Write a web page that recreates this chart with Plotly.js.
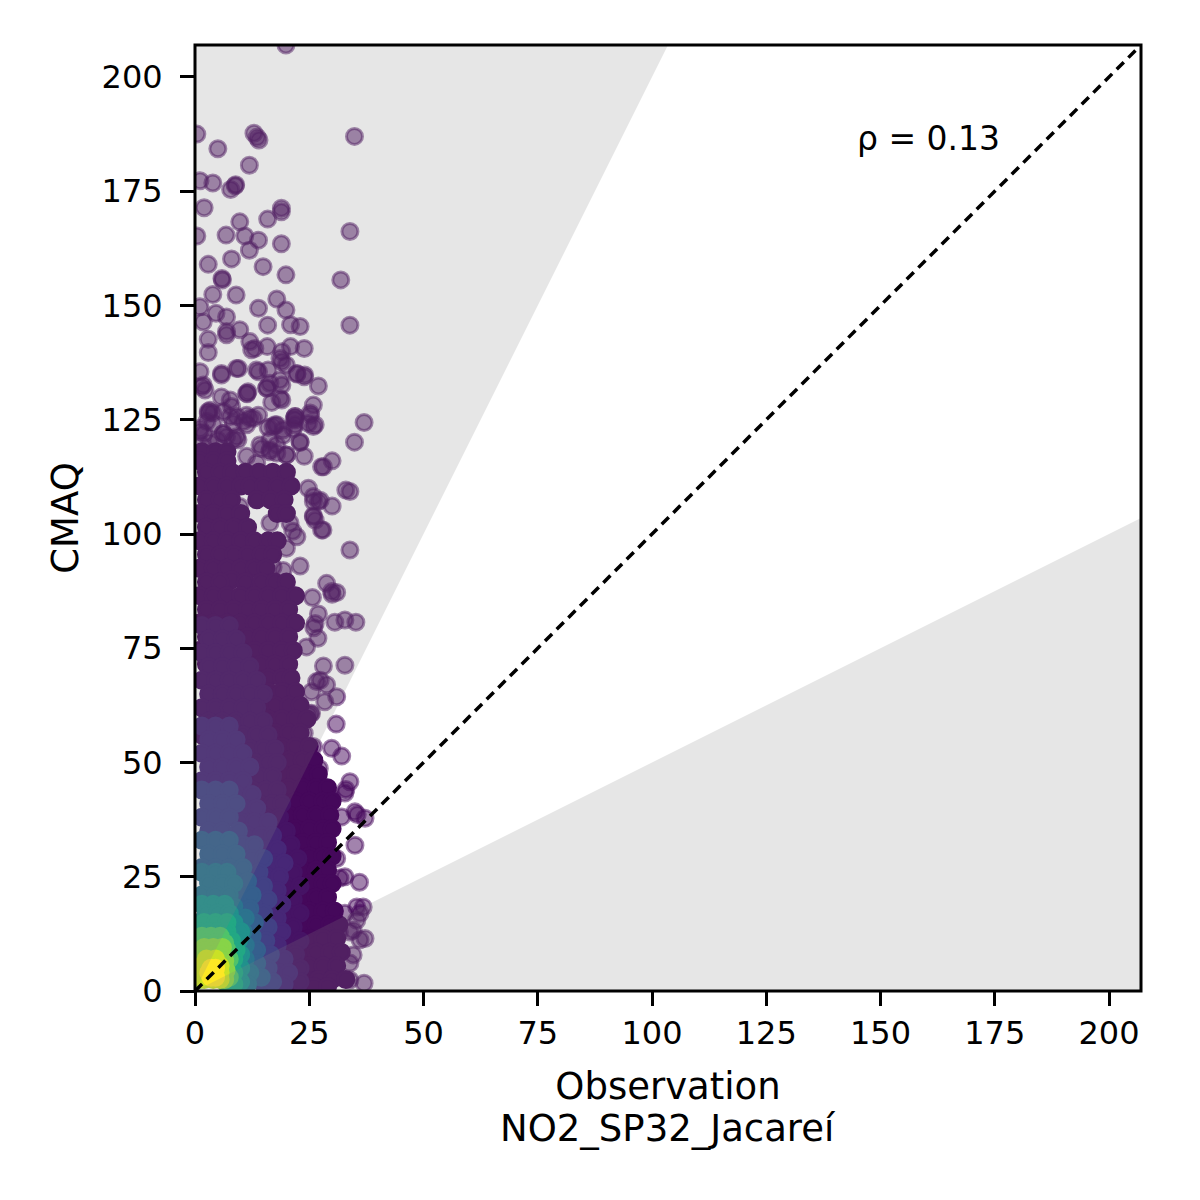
<!DOCTYPE html>
<html><head><meta charset="utf-8">
<script src="https://cdn.plot.ly/plotly-3.0.1.min.js"></script>
<style>html,body{margin:0;padding:0;background:#fff}</style></head>
<body><div id="chart" style="width:1200px;height:1200px"></div>
<script>
const tickValues=[0,25,50,75,100,125,150,175,200];
const axisMax=207;
const correlationLabel='ρ = 0.13';
const stationLabel='NO2_SP32_Jacareí';
const viridisStops=[[0,68,1,84],[0.1,72,36,117],[0.2,65,68,135],[0.3,53,95,141],[0.4,42,120,142],[0.5,33,145,140],[0.6,34,168,132],[0.7,68,191,112],[0.8,122,209,81],[0.9,189,223,38],[1,253,231,37]];
// isolated observations: [Observation, CMAQ]
const sparsePairs=[[19.9,207],[0.4,187.5],[12.9,187.7],[13.6,186.8],[14,186.2],[34.9,187],[5,184.3],[11.9,180.7],[1.1,177.3],[3.9,176.8],[7.8,175.4],[8.8,176.2],[8.9,176.4],[2,171.4],[18.9,171.3],[18.9,170.5],[15.9,168.9],[9.8,168.3],[6.8,165.4],[10.9,165.2],[0.4,165.2],[13.9,164.3],[33.9,166.2],[18.9,163.5],[11.9,162.1],[8,160.2],[2.9,159],[14.9,158.5],[19.9,156.7],[31.9,155.6],[5.9,155.9],[6,155.6],[3.9,152.4],[9,152.3],[17.9,151.4],[1.1,149.7],[13.9,149.4],[19.9,149],[4.6,148.3],[6.9,147.5],[1.8,146.4],[15.9,145.7],[20.9,145.8],[23,145.4],[33.9,145.7],[6.9,144.3],[6.9,143.6],[9.8,144.7],[2.9,142.6],[2.9,139.7],[1.1,135.5],[5.8,135.1],[9.5,136.2],[12,142.1],[13.1,140.6],[15.8,141],[19,139.9],[20.9,141],[23.9,140.6],[18.6,138.4],[13.5,135.9],[16,135.9],[19,132.6],[22.3,135.1],[23.9,134.4],[27,132.4],[25.9,128.2],[19,129.3],[15.7,131.9],[11.3,130.8],[7.7,129.3],[2.9,126.8],[1.5,132.2],[21.9,125.7],[21.9,125],[25.2,126.5],[17.9,123.9],[12,125.3],[1.1,123.1],[3.9,126.5],[7.7,125.7],[5.8,130],[1.1,122.4],[6.2,122],[9.1,121.3],[11.3,123.9],[17.1,123.5],[21.9,123.9],[25.9,123.5],[19.3,121.6],[16.4,118.4],[14.2,119.5],[20,117.3],[17.9,119.5],[34.9,120.1],[37,124.4],[30,116],[28.1,114.7],[27.7,114.7],[23.9,117],[23,120],[33,109.6],[33.9,109.3],[30,106.1],[24.8,110],[25.9,107.1],[27,107.1],[25.9,103.8],[28,100.9],[33.9,96.5],[23,93],[28.8,89.2],[29.9,87.4],[31,87.2],[25.7,86.1],[30,86.8],[30.6,80.7],[32.8,81.2],[35.2,80.7],[27,82.5],[26.3,80.4],[26,79.5],[32.8,71.3],[28.1,71.1],[26.9,77.2],[24.4,75.3],[27.4,68],[26.6,67.7],[28.8,67],[25.5,65.5],[31,64.4],[28.4,63.3],[22.3,62.6],[25.5,60.8],[24.8,60.4],[30.9,58.4],[23.9,56.4],[25.3,60.6],[32.1,51.4],[29.9,53.1],[27.2,48.7],[25.9,53.5],[33.9,45.8],[33,44.1],[32.8,43.3],[27.9,44.3],[29.9,42.2],[26.3,41.8],[25.2,40.7],[35,39.2],[37.2,37.8],[35.5,38.6],[32.1,38.1],[35,31.9],[31,29],[32.8,25],[31.7,24.7],[36,23.8],[32.8,17],[35.4,18.4],[36.8,18.4],[36.1,17],[37.2,11.5],[36.1,11.2],[34.6,7.9],[33.9,6.1],[33.9,2.4],[37,1.7],[35.4,15.5],[34.6,13.3],[33.9,12.9],[31.6,12.9],[31,14]];
const clusterPairs=[[5.8,134.8],[9.1,136.2],[13.9,135.5],[12.4,140.3],[19,137.7],[20,137],[24,134.8],[22.3,135],[18.6,133.7],[16.4,133],[15.7,132],[18.6,129.7],[16.8,128.8],[11.6,131.1],[11.4,130.7],[8,127.9],[3.3,127.1],[2.9,126.4],[1.8,132.6],[2.2,131.5],[6.2,126.8],[9.1,125.7],[11.3,126],[12.8,125.3],[13.9,126],[10.6,124.6],[8.4,124.2],[2.6,124.6],[21.9,125.7],[21.7,125.2],[25.3,126],[26.3,123.9],[24.8,124.2],[17.5,123.9],[16,123.3],[19.3,122.8],[21.5,123],[16.4,120.6],[23,120.2],[20,117.3],[14.6,118.7],[16.4,118],[17.9,117.7],[6.9,121.3],[8.4,120.6],[6.2,122],[9.4,120.6],[11.3,117],[13.5,115.5],[9.8,106],[16.4,102.4],[20.8,102.4],[21.4,100.6],[22.3,99.4],[20,96.9],[17.1,92.8],[19.3,92],[25.9,104],[26.3,103],[27.7,100.9],[25.9,108.2],[27.4,107.4],[2,122],[4,124],[5,120.5],[3.2,120],[1.5,119.5]];
// dense cloud, one band per density level: [CMAQ, Observation, Observation, ...]
const densityLevels=[0.02,0.05,0.11,0.19,0.3,0.38,0.5,0.6,0.72,0.82,0.92,1];
const bandA=[[118,1.5,4.5,7],[116,1,4,7],[113.5,2.5,5.5,8,11,14,17,20],[110.5,1,4,7,10,12,15,18,21],[107.5,2.5,5.5,8,13.5,16.5,19.5],[104.5,1,4,7,10,18,20],[101.5,2.5,5.5,8.5,11.5],[98.5,1,4,7,10,13,16,18],[95.5,2.5,5.5,8.5,11.5,14.5,17],[92.5,1,4,7,10,13,15.5],[90,8],[89.5,2.5,5.5,11,14.5,17.5,20],[86.5,1,4,7,10,13,16,19,22],[83.5,2.5,5.5,8.5,11.5,14.5,17.5,20.5],[80.5,1,4,7,10,13,16,19,22],[77.5,2.5,5.5,8.5,11.5,14.5,17.5,20.5],[74.5,1,4,7,10,13,16,19,21.5],[71.5,2.5,5.5,8.5,11.5,14.5,17.5,20.5],[68.5,10,13,16,19,21],[65.5,13,16,19,22],[62.5,14.5,17.5,20.5,23],[59.5,13,16,19,22,24.5],[56.5,14.5,17.5,20.5,23],[53.5,13,16,19,22,25],[50.5,14.5,17.5,20.5,23.5,26],[47.5,16,19,22,25,27],[44.5,17.5,20.5,23.5,26.5,29],[41.5,16,19,22,25,28,30],[38.5,17.5,20.5,23.5,26.5,29.5],[35.5,19,22,25,28,30],[32.5,20.5,23.5,26.5,29],[29.5,22,25,28,30],[26.5,20.5,23.5,26.5,29],[23.5,22,25,28,30],[20.5,23.5,26.5,29],[17.5,22,25,28,30.5],[14.5,23.5,26.5,29.5,31.5],[11.5,22,25,28,31],[8.5,23.5,26.5,29.5,32],[5.5,22.5,25,28,31],[2.5,24,27,30,33],[1,22,26,29]];
const bandB=[[80,1.5,4.5,7.5],[77,3,6,9],[74,1.5,4.5,7.5,10.5],[71,3,6,9,12],[68,1.5,4.5,7.5,10.5,13.5],[65,3,6,9,12,15],[62,1.5,4.5,7.5,10.5,13.5],[59,3,6,9,12,15],[56,1.5,4.5,7.5,10.5,13.5,16],[53,12,15,17.5],[50,13,16,18],[47,11,14,17],[44,12.5,15.5,18],[41,14,17,19],[38,12.5,15.5,18.5],[35,14,17,20],[32,15.5,18.5,21],[29,17,20,22.5],[26,15.5,18.5,21.5],[23,17,20,23],[20,18.5,21.5],[17,17,20,23],[14,18.5,21.5],[11,17.5,20.5,23],[8,19,22],[5,20,23],[2,20,23]];
const bandC=[[58,1.5,4.5,7.5],[55,3,6,9],[52,1.5,4.5,7.5,10.5],[49,3,6,9,12],[46,1.5,4.5,7.5,10.5],[43,3,6,9,12.5],[40,10.5,13.5],[37,10,13,16],[34,11.5,14.5,17],[31,13,16,18],[28,14.5,17.5,19.5],[25,16,18.5],[22,15,18],[19,16.5,19],[16,15,18],[13,16.5,19],[10,15.5,18],[7,17,19.5],[4,16,18.5,20.5],[1.5,17,19.5]];
const bandD=[[44,1.5,4.5,7.5],[41,3,6,9],[38,1.5,4.5,7.5],[35,3,6,9.5],[32,10.5,13],[29,9.5,12.5,15],[26,11,14],[23,12.5,15],[20,11,14,16],[17,12.5,15],[14,14,16],[11,13,15.5],[8,14.5,16.5],[5,13.5,16],[2,14.5,17]];
const bandE=[[33,1.5,4.5,7.5],[30,3,6,9],[27,1.5,4.5,7.5,10.5],[24,3,6,9,11.5],[21,10,12.5],[18,9.5,12],[15,11,13],[12,10,12.5],[9,11.5,13.5],[6,11,13.5],[3,12,14.5]];
const bandF=[[26,1.5,4.5,7],[23.5,3,6,8.5],[21,1.5,4.5,7.5],[18.5,3,6,8.5],[16,9,11],[13,8.5,10.5],[10,9.5,11],[7,9,11],[4,10,12],[1.5,9,11.5]];
const bandG=[[19,1.5,4,6.5],[17,2.5,5,7.5],[15,1,3.5,6,8.5],[13,8.5,10],[11,8,9.5],[8,8,10],[5,8.5,10],[2,8,10]];
const bandH=[[15,2,4.5,7],[13,1,3,5,7],[11,2,4,6,8],[9,7,9],[7,7,8.5],[4,7.5,8.5],[1.5,7,8.5]];
const bandI=[[12,1.5,3.5,5.5],[10.5,2.5,4.5,6.5],[9,1.5,3.5,5.5,7],[7,6.5,7.5],[3,6.5,7.5]];
const bandJ=[[9.5,2,4,6],[8,1.5,3.5,5.5],[6.5,1,6.5],[4.5,1,6.8],[2.5,1,6.5]];
const bandK=[[7,2.5,4.5],[5.5,1.5,3.5,5.5],[4,1.5,5.5],[2.5,2,4,5.5]];
const bandL=[[5,3.5,4.5],[4,3,4],[3,3.5,4.5]];
const bands=[bandA,bandB,bandC,bandD,bandE,bandF,bandG,bandH,bandI,bandJ,bandK,bandL];
const upperWedgeObs=[0,103.5,0,0], upperWedgeMod=[0,207,207,0];
const lowerWedgeObs=[0,207,207,0], lowerWedgeMod=[0,103.5,0,0];
const unityObs=[0,207], unityMod=[0,207];

const scale=a=>viridisStops.map(s=>[s[0],`rgba(${s[1]},${s[2]},${s[3]},${a})`]);
const pointStyle=(c,a)=>({size:16,color:c,cmin:0,cmax:1,colorscale:scale(a),showscale:false,
  line:{width:3,color:c,cmin:0,cmax:1,colorscale:scale(a)}});
const coreX=[],coreY=[],coreC=[];
bands.forEach((rows,i)=>rows.forEach(r=>r.slice(1).forEach(x=>{coreX.push(x);coreY.push(r[0]);coreC.push(densityLevels[i]);})));
const openPairs=sparsePairs.concat(clusterPairs);
const traces=[
 {type:'scatter',mode:'markers',x:openPairs.map(p=>p[0]),y:openPairs.map(p=>p[1]),marker:pointStyle(openPairs.map(()=>0.02),0.5),hoverinfo:'skip'},
 {type:'scatter',mode:'markers',x:coreX,y:coreY,marker:pointStyle(coreC,1),hoverinfo:'skip'},
 {type:'scatter',mode:'lines',x:upperWedgeObs,y:upperWedgeMod,fill:'toself',fillcolor:'rgba(128,128,128,0.2)',line:{width:0},hoverinfo:'skip'},
 {type:'scatter',mode:'lines',x:lowerWedgeObs,y:lowerWedgeMod,fill:'toself',fillcolor:'rgba(128,128,128,0.2)',line:{width:0},hoverinfo:'skip'},
 {type:'scatter',mode:'lines',x:unityObs,y:unityMod,line:{color:'#000',width:3.5,dash:'10px,6.5px'},hoverinfo:'skip'}
];
const axis=()=>({range:[0,axisMax],tickmode:'array',tickvals:tickValues,ticktext:tickValues.map(String),ticks:'outside',ticklen:14,tickwidth:3,tickcolor:'#000',
  showline:false,showgrid:false,zeroline:false,tickfont:{family:'DejaVu Sans',size:32,color:'#000'}});
const layout={width:1200,height:1200,margin:{l:195,r:59,t:45,b:209,pad:0},showlegend:false,paper_bgcolor:'#fff',plot_bgcolor:'#fff',
  font:{family:'DejaVu Sans',color:'#000'},
  xaxis:Object.assign(axis(),{ticklabelstandoff:0,title:{text:'Observation',font:{size:37},standoff:21}}),
  yaxis:Object.assign(axis(),{ticklabelstandoff:11,title:{text:'CMAQ',font:{size:37},standoff:11}}),
  shapes:[{type:'rect',xref:'paper',yref:'paper',x0:0,x1:1,y0:0,y1:1,layer:'above',line:{color:'#000',width:3},fillcolor:'rgba(0,0,0,0)'}],
  annotations:[
   {xref:'x',yref:'y',x:144.5,y:186.6,text:correlationLabel,showarrow:false,xanchor:'left',yanchor:'middle',font:{family:'DejaVu Sans',size:33,color:'#000'}},
   {xref:'paper',yref:'paper',x:0.5,y:-0.1453,text:stationLabel,showarrow:false,xanchor:'center',yanchor:'middle',font:{family:'DejaVu Sans',size:37,color:'#000'}}
  ]};
Plotly.newPlot('chart',traces,layout,{displayModeBar:false,staticPlot:true});
</script></body></html>
